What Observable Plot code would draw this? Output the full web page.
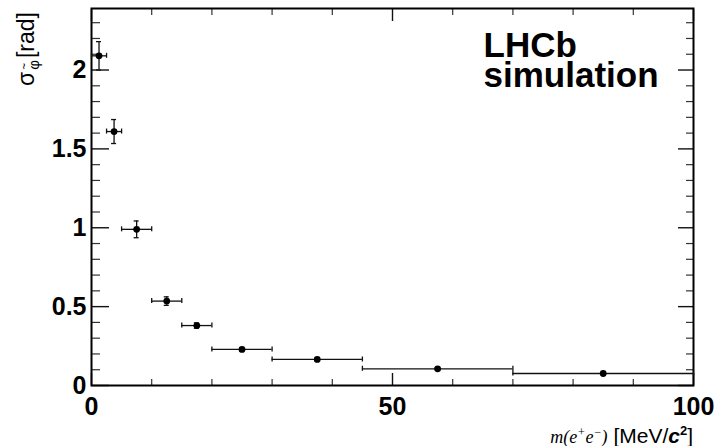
<!DOCTYPE html>
<html><head><meta charset="utf-8">
<script src="https://cdn.jsdelivr.net/npm/d3@7"></script>
<script src="https://cdn.jsdelivr.net/npm/@observablehq/plot@0.6"></script>
<style>body{margin:0;background:#fff} svg{display:block}</style>
</head><body><div id="chart"></div>
<script>
// bins in m(e+e-) [MeV/c^2]
const massLow    = [0, 2.5, 5, 10, 15, 20, 30, 45, 70];
const massHigh   = [2.5, 5, 10, 15, 20, 30, 45, 70, 100];
const massCenter = [1.25, 3.75, 7.5, 12.5, 17.5, 25, 37.5, 57.5, 85];
// resolution sigma_phi [rad]
const sigma    = [2.09, 1.61, 0.99, 0.535, 0.38, 0.229, 0.165, 0.106, 0.076];
const sigmaErr = [0.09, 0.076, 0.053, 0.027, 0.017, 0.010, 0.008, 0.006, 0.005];

const yMajor = [0, 0.5, 1, 1.5, 2];
const yMajorLabels = ["0", "0.5", "1", "1.5", "2"];
const yMinor = [0.1, 0.2, 0.3, 0.4, 0.6, 0.7, 0.8, 0.9, 1.1, 1.2, 1.3, 1.4, 1.6, 1.7, 1.8, 1.9, 2.1, 2.2, 2.3];
const xMajor = [0, 50, 100];
const xMajorLabels = ["0", "50", "100"];
const xMinor = [10, 20, 30, 40, 60, 70, 80, 90];

const bins = massCenter.map((m, i) => ({
  x: m, xlo: massLow[i], xhi: massHigh[i],
  y: sigma[i], ylo: sigma[i] - sigmaErr[i], yhi: sigma[i] + sigmaErr[i]
}));

const font = "'Liberation Sans', Arial, Helvetica, sans-serif";
const serif = "'Liberation Serif', 'Times New Roman', serif";
const ink = "#111";

const plot = Plot.plot({
  width: 717, height: 446,
  marginLeft: 91, marginRight: 24, marginTop: 8, marginBottom: 61,
  style: {fontFamily: font, background: "white", color: "black", overflow: "visible"},
  x: {domain: [0, 100]},
  y: {domain: [0, 2.39]},
  marks: [
    // inward ticks on all four sides
    Plot.axisY(yMinor, {anchor: "left", tickSize: -9, fill: "none", label: null, stroke: "#333", strokeWidth: 1.2}),
    Plot.axisY(yMinor, {anchor: "right", tickSize: -8, fill: "none", label: null, stroke: "#333", strokeWidth: 1.2}),
    Plot.axisY(yMajor, {anchor: "left", tickSize: -18, fill: "none", label: null, stroke: ink, strokeWidth: 1.4}),
    Plot.axisY(yMajor, {anchor: "right", tickSize: -16, fill: "none", label: null, stroke: ink, strokeWidth: 1.4}),
    Plot.axisX(xMinor, {anchor: "bottom", tickSize: -6, fill: "none", label: null, stroke: "#333", strokeWidth: 1.2}),
    Plot.axisX(xMinor, {anchor: "top", tickSize: -6, fill: "none", label: null, stroke: "#333", strokeWidth: 1.2}),
    Plot.axisX(xMajor, {anchor: "bottom", tickSize: -12, fill: "none", label: null, stroke: ink, strokeWidth: 1.4}),
    Plot.axisX(xMajor, {anchor: "top", tickSize: -12, fill: "none", label: null, stroke: ink, strokeWidth: 1.4}),
    // tick labels
    Plot.axisY(yMajor, {anchor: "left", tickSize: 0, tickPadding: 5, label: null, fontSize: 25, fontWeight: "bold", fill: "black",
      tickFormat: d => yMajorLabels[yMajor.indexOf(d)]}),
    Plot.axisX(xMajor, {anchor: "bottom", tickSize: 0, tickPadding: 12, label: null, fontSize: 25, fontWeight: "bold", fill: "black",
      tickFormat: d => xMajorLabels[xMajor.indexOf(d)]}),
    Plot.frame({stroke: "black", strokeWidth: 2}),
    // horizontal (bin width) error bars and end caps
    Plot.ruleY(bins, {y: "y", x1: "xlo", x2: "xhi", stroke: ink, strokeWidth: 1.3}),
    Plot.ruleX(bins, {x: "xlo", y1: "y", y2: "y", insetTop: -2.5, insetBottom: -2.5, stroke: ink, strokeWidth: 1.3}),
    Plot.ruleX(bins, {x: "xhi", y1: "y", y2: "y", insetTop: -2.5, insetBottom: -2.5, stroke: ink, strokeWidth: 1.3}),
    // vertical error bars and end caps
    Plot.ruleX(bins, {x: "x", y1: "ylo", y2: "yhi", stroke: ink, strokeWidth: 1.3}),
    Plot.ruleY(bins, {y: "ylo", x1: "x", x2: "x", insetLeft: -2.5, insetRight: -2.5, stroke: ink, strokeWidth: 1.3}),
    Plot.ruleY(bins, {y: "yhi", x1: "x", x2: "x", insetLeft: -2.5, insetRight: -2.5, stroke: ink, strokeWidth: 1.3}),
    Plot.dot(bins, {x: "x", y: "y", r: 3.4, fill: "black", stroke: "none"}),
    // experiment label
    Plot.text(["LHCb"], {frameAnchor: "top-left", textAnchor: "start", lineAnchor: "top",
      dx: 392, dy: 24, fontSize: 35, fontWeight: "bold", fill: "black"}),
    Plot.text(["simulation"], {frameAnchor: "top-left", textAnchor: "start", lineAnchor: "top",
      dx: 392, dy: 54, fontSize: 35, fontWeight: "bold", fill: "black"})
  ]
});

document.getElementById("chart").appendChild(plot);

// axis titles with rich text
const svg = d3.select(plot);
const yt = svg.append("text")
  .attr("transform", "translate(34,12) rotate(-90)")
  .attr("text-anchor", "end")
  .attr("font-family", font).attr("font-size", 23).attr("fill", "black");
yt.append("tspan").text("σ");
yt.append("tspan").attr("font-size", 15).attr("dy", 5).attr("dx", 2).text("φ");
yt.append("tspan").attr("font-size", 11).attr("dx", -9.5).attr("dy", -11).text("~");
yt.append("tspan").attr("dx", 5).attr("dy", 6).text("[rad]");

const xt = svg.append("text")
  .attr("x", 693).attr("y", 443)
  .attr("text-anchor", "end")
  .attr("font-size", 21).attr("fill", "black");
xt.append("tspan").attr("font-family", serif).attr("font-style", "italic").attr("font-size", 18).text("m(e");
xt.append("tspan").attr("font-family", serif).attr("font-style", "italic").attr("font-size", 12).attr("dy", -7).text("+");
xt.append("tspan").attr("font-family", serif).attr("font-style", "italic").attr("font-size", 18).attr("dy", 7).text("e");
xt.append("tspan").attr("font-family", serif).attr("font-style", "italic").attr("font-size", 12).attr("dy", -7).text("−");
xt.append("tspan").attr("font-family", serif).attr("font-style", "italic").attr("font-size", 18).attr("dy", 7).text(")");
xt.append("tspan").attr("font-family", font).text(" [MeV/");
xt.append("tspan").attr("font-family", font).attr("font-style", "italic").attr("font-weight", "bold").text("c");
xt.append("tspan").attr("font-family", font).attr("font-weight", "bold").attr("font-size", 13).attr("dy", -8).text("2");
xt.append("tspan").attr("font-family", font).attr("dy", 8).text("]");
</script>
</body></html>
